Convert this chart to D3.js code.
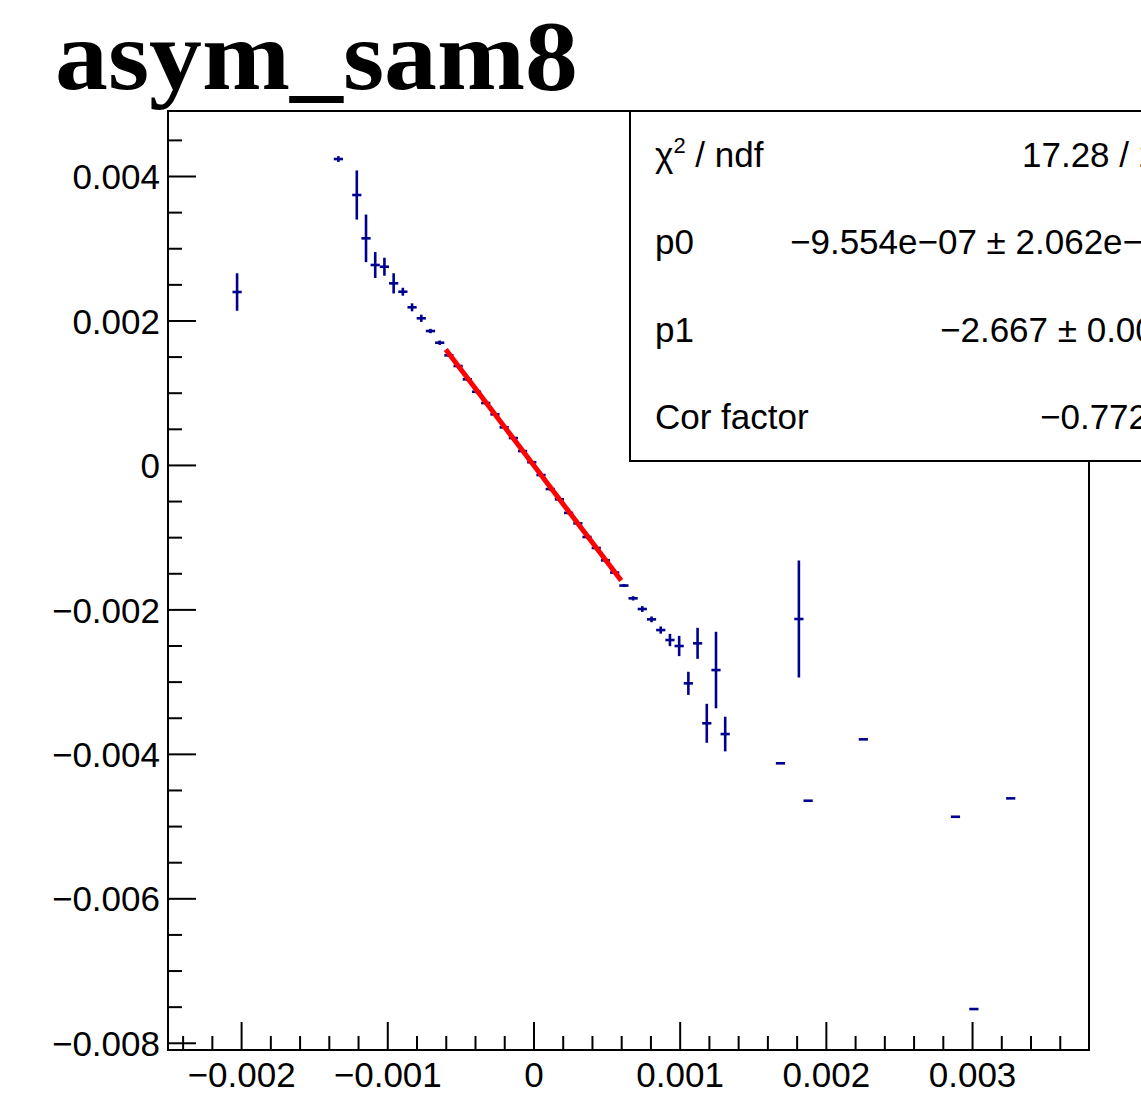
<!DOCTYPE html>
<html><head><meta charset="utf-8">
<script src="https://cdn.jsdelivr.net/npm/d3@7"></script>
<style>body{margin:0;background:#fff;overflow:hidden}svg{display:block}</style>
</head><body><svg id="c" width="1141" height="1119"></svg>
<script>
// ---------------- data ----------------
const title = "asym_sam8";
const binWidth = 0.000063;
const xVals = [-0.0020275,-0.0013345,-0.0012085,-0.0011455,-0.0010825,-0.0010195,-0.0009565,-0.0008935,-0.0008305,-0.0007675,
  -0.0007045,-0.0006415,-0.0005785,-0.0005155,-0.0004525,-0.0003895,-0.0003265,-0.0002635,-0.0002005,-0.0001375,
  -0.0000745,-0.0000115,0.0000515,0.0001145,0.0001775,0.0002405,0.0003035,0.0003665,0.0004295,0.0004925,
  0.0005555,0.0006185,0.0006815,0.0007445,0.0008075,0.0008705,0.0009335,0.0009965,0.0010595,0.0011225,
  0.0011855,0.0012485,0.0013115,0.0016895,0.0018155,0.0018785,0.0022565,0.0028865,0.0030125,0.0032645];
const yVals = [0.002394,0.004235,0.003737,0.003137,0.002768,0.002744,0.002514,0.002398,0.002182,0.002030,
  0.001854,0.001692,0.001517,0.001369,0.001185,0.001013,0.000857,0.000700,0.000520,0.000372,
  0.000192,0.000037,-0.000140,-0.000334,-0.000476,-0.000664,-0.000809,-0.000998,-0.001150,-0.001321,
  -0.001490,-0.001670,-0.001847,-0.001995,-0.002138,-0.002286,-0.002424,-0.002507,-0.003024,-0.002470,
  -0.003577,-0.002840,-0.003726,-0.004131,-0.002133,-0.004649,-0.003799,-0.004871,-0.007533,-0.004616];
const yErrs = [0.00026,0.00004,0.00034,0.00033,0.00018,0.000125,0.00014,0.000055,0.000055,0.00005,
  0.00003,0.00003,0.00002,0.00002,0.00002,0.00002,0.00002,0.00002,0.00002,0.00002,
  0.00002,0.00002,0.00002,0.00002,0.00002,0.00002,0.00002,0.00002,0.00002,0.00002,
  0.00002,0.00002,0.00003,0.00004,0.00004,0.00005,0.000085,0.00014,0.00016,0.000215,
  0.00027,0.00053,0.00024,0.0,0.00081,0.0,0.0,0.0,0.0,0.0];
const fitRange = [-0.0006, 0.0006];
const fitP0 = -9.554e-7, fitP1 = -2.667;
const xDomain = [-0.0025, 0.0038];
const yDomain = [-0.0081, 0.0049];
const xMajor = [-0.002,-0.001,0,0.001,0.002,0.003];
const yMajor = [0.004,0.002,0,-0.002,-0.004,-0.006,-0.008];
const statLabels = ["χ", "p0", "p1", "Cor factor"];
const statValues = ["17.28 / 23", "−9.554e−07 ± 2.062e−05", "−2.667 ± 0.006", "−0.7724"];

// ---------------- layout ----------------
const svg = d3.select("#c");
svg.append("rect").attr("width",1141).attr("height",1119).attr("fill","#fff");
const L=168, T=111, R=1089, B=1050;
const x = d3.scaleLinear().domain(xDomain).range([L,R]);
const y = d3.scaleLinear().domain(yDomain).range([B,T]);
const fmt = d => Math.abs(d)<1e-12 ? "0" : d3.format(".3f")(d);
const col = "#00008f";

const xMinor = d3.range(-24,38,2).map(v=>v/10000).filter(v=>!xMajor.some(m=>Math.abs(m-v)<1e-9));
const yMinor = d3.range(-16,10,1).map(v=>v/2000).filter(v=>v>=yDomain[0]&&v<=yDomain[1]&&!yMajor.some(m=>Math.abs(m-v)<1e-9));

// title
svg.append("text").attr("x",55).attr("y",89).text(title)
  .attr("font-family","'Liberation Serif','Times New Roman',serif").attr("font-weight","bold")
  .attr("font-size",100).attr("textLength",523).attr("lengthAdjust","spacingAndGlyphs").attr("fill","#000");

// data points
const pts = xVals.map((xv,i)=>({x:xv,y:yVals[i],e:yErrs[i]}));
const g = svg.append("g").attr("stroke",col).attr("stroke-width",2.6).attr("fill","none");
g.selectAll("line.h").data(pts).join("line").attr("class","h")
  .attr("x1",d=>x(d.x-binWidth/2)).attr("x2",d=>x(d.x+binWidth/2))
  .attr("y1",d=>y(d.y)).attr("y2",d=>y(d.y));
g.selectAll("line.v").data(pts.filter(d=>d.e>0)).join("line").attr("class","v")
  .attr("x1",d=>x(d.x)).attr("x2",d=>x(d.x))
  .attr("y1",d=>y(d.y-d.e)).attr("y2",d=>y(d.y+d.e));

// fit line
svg.append("line").attr("x1",x(fitRange[0])).attr("x2",x(fitRange[1]))
  .attr("y1",y(fitP0+fitP1*fitRange[0])).attr("y2",y(fitP0+fitP1*fitRange[1]))
  .attr("stroke","#ff0000").attr("stroke-width",5);

// axes
const font = "'Liberation Sans',Arial,Helvetica,sans-serif";
const xa = svg.append("g").attr("transform",`translate(0,${B})`)
  .call(d3.axisBottom(x).tickValues(xMajor).tickSize(-28).tickFormat(fmt).tickSizeOuter(0));
xa.selectAll("text").attr("y",28).attr("dy","0").attr("font-size",35).attr("font-family",font).attr("fill","#000").attr("dominant-baseline","middle");
const xm = svg.append("g").attr("transform",`translate(0,${B})`)
  .call(d3.axisBottom(x).tickValues(xMinor).tickSize(-14).tickFormat("").tickSizeOuter(0));
const ya = svg.append("g").attr("transform",`translate(${L},0)`)
  .call(d3.axisLeft(y).tickValues(yMajor).tickSize(-28).tickPadding(8).tickFormat(fmt).tickSizeOuter(0));
ya.selectAll("text").attr("font-size",35).attr("font-family",font).attr("fill","#000").attr("dy","0.36em");
const ym = svg.append("g").attr("transform",`translate(${L},0)`)
  .call(d3.axisLeft(y).tickValues(yMinor).tickSize(-14).tickFormat("").tickSizeOuter(0));
svg.selectAll(".domain").remove();
svg.selectAll(".tick line").attr("stroke","#000").attr("stroke-width",2);

// frame
svg.append("rect").attr("x",L).attr("y",T).attr("width",R-L).attr("height",B-T)
  .attr("fill","none").attr("stroke","#000").attr("stroke-width",2);

// stats box
const SB = {x:630, y:111, w:560, h:350};
svg.append("rect").attr("x",SB.x).attr("y",SB.y).attr("width",SB.w).attr("height",SB.h)
  .attr("fill","#fff").attr("stroke","#000").attr("stroke-width",2);
const rowH = SB.h/statLabels.length;
const valStart = [1022, 790, 940, 1040];
statLabels.forEach((lab,i)=>{
  const by = SB.y + rowH*(i+0.5) + 12;
  const t = svg.append("text").attr("x",655).attr("y",by).attr("font-family",font).attr("font-size",35).attr("fill","#000");
  if(i===0){
    t.append("tspan").text(lab);
    t.append("tspan").attr("font-size",22).attr("dy",-14).text("2");
    t.append("tspan").attr("dy",14).text(" / ndf");
  } else t.text(lab);
  svg.append("text").attr("x",valStart[i]).attr("y",by).attr("font-family",font).attr("font-size",35).attr("fill","#000").text(statValues[i]);
});
</script></body></html>
